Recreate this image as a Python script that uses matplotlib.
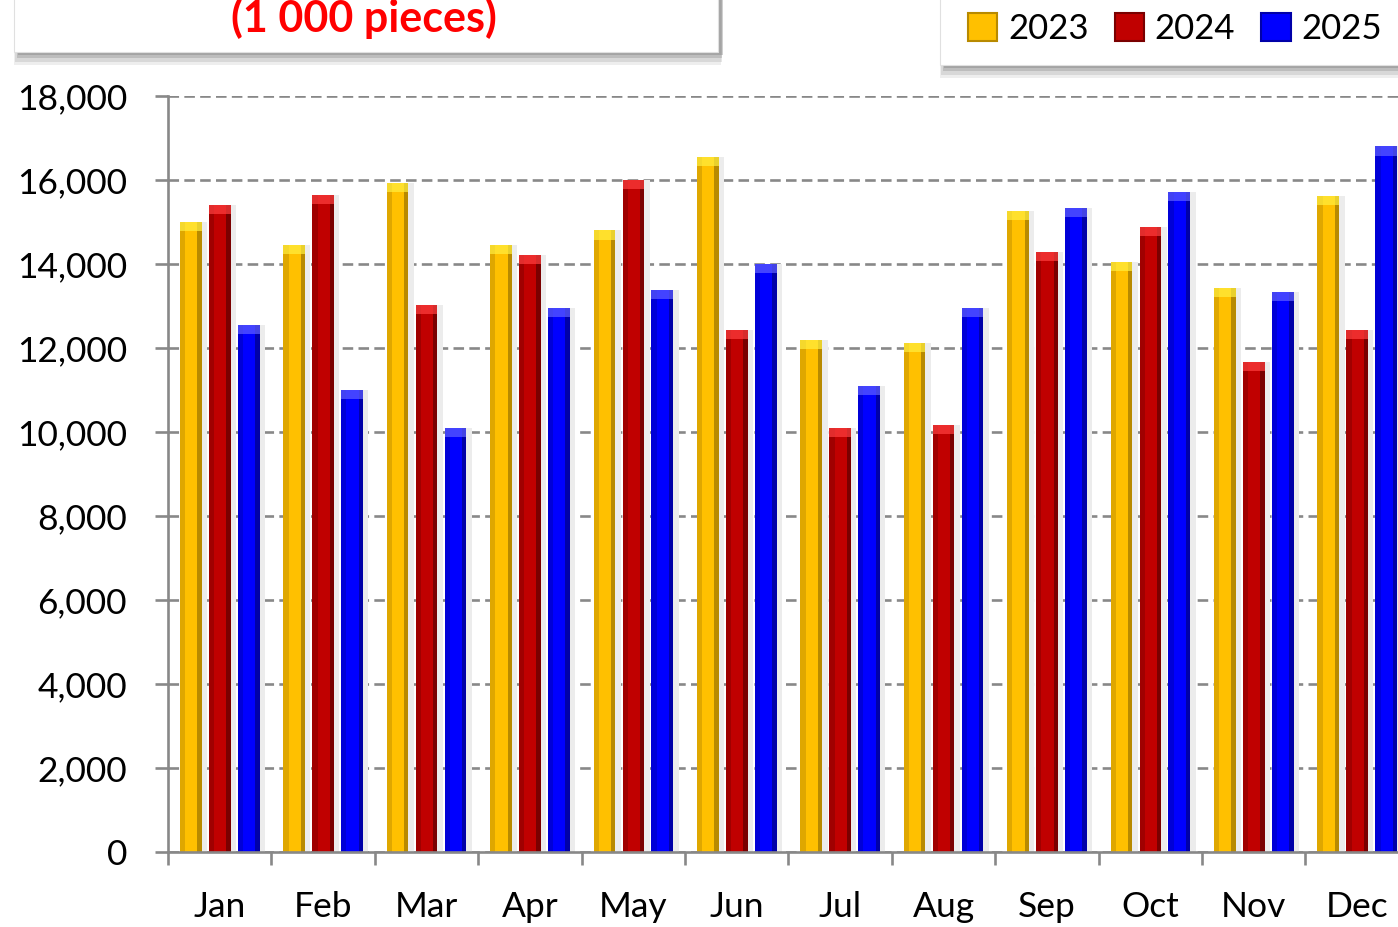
import numpy as np
import matplotlib.pyplot as plt
from matplotlib.patches import Rectangle, Patch
from matplotlib.ticker import FuncFormatter, MultipleLocator

plt.rcParams['font.family'] = ['Lato', 'DejaVu Sans']

months = ['Jan', 'Feb', 'Mar', 'Apr', 'May', 'Jun', 'Jul', 'Aug', 'Sep', 'Oct', 'Nov', 'Dec']
years = ['2023', '2024', '2025']
v2023 = [15000, 14450, 15930, 14450, 14800, 16550, 12190, 12120, 15260, 14050, 13430, 15620]
v2024 = [15400, 15640, 13020, 14210, 16000, 12430, 10100, 10170, 14290, 14880, 11670, 12430]
v2025 = [12550, 11000, 10100, 12950, 13380, 14000, 11100, 12950, 15330, 15710, 13330, 16800]

# base, dark edge, light highlight
colors = [('#ffc000', '#b88a00', '#ffee40'),
          ('#c00000', '#7a0000', '#ff4040'),
          ('#0000ff', '#0000a8', '#6060ff')]

fig = plt.figure(figsize=(13.98, 9.27), dpi=100)
ax = fig.add_axes([0.1202, 0.0809, 0.8876, 0.8155])

x = np.arange(len(months))
w = 0.21
offs = [-0.28, 0.0, 0.28]
for vals, off, (c, dk, lt) in zip([v2023, v2024, v2025], offs, colors):
    xs = x + off
    # soft shadow
    ax.bar(xs + w * 0.25, vals, width=w, color='#ececec', zorder=1)
    ax.bar(xs, vals, width=w, color=c, zorder=2)
    ax.bar(xs - w * 0.38, vals, width=w * 0.24, color=dk, alpha=0.45, zorder=3)
    ax.bar(xs + w * 0.40, vals, width=w * 0.2, color=dk, zorder=3)
    cap = 220
    ax.bar(xs, [cap] * len(vals), bottom=np.array(vals) - cap, width=w,
           color=lt, alpha=0.7, zorder=4)

ax.set_xlim(-0.5, 11.5)
ax.set_ylim(0, 18000)
ax.yaxis.set_major_locator(MultipleLocator(2000))
ax.yaxis.set_major_formatter(FuncFormatter(lambda v, p: f'{int(v):,}'))
ax.set_xticks(x)
ax.set_xticklabels(months)
ax.set_xticks(np.arange(-0.5, 12, 1), minor=True)

ax.grid(axis='y', color='#888888', linestyle=(0, (4, 2)), linewidth=1.9, zorder=0)
ax.set_axisbelow(True)
for s in ['top', 'right']:
    ax.spines[s].set_visible(False)
for s in ['left', 'bottom']:
    ax.spines[s].set_color('#888888')
    ax.spines[s].set_linewidth(1.9)
    ax.spines[s].set_zorder(5)

ax.tick_params(axis='y', length=9.5, width=1.9, color='#888888', labelsize=25.5, pad=20)
ax.tick_params(axis='x', which='major', length=0, labelsize=25.5, pad=28)
ax.tick_params(axis='x', which='minor', length=9.5, width=1.9, color='#888888')


def shadow_box(x0, y0, wd):
    for i, a in enumerate([0.12, 0.18, 0.28, 0.35]):
        d = 4 - i
        fig.patches.append(Rectangle((x0 + 0.001 * i, y0 - 0.0035 * d), wd + 0.0006 * d, 0.1,
                                     transform=fig.transFigure, facecolor='#777777', alpha=a,
                                     edgecolor='none', zorder=1))
    fig.patches.append(Rectangle((x0, y0), wd, 0.1, transform=fig.transFigure,
                                 facecolor='white', edgecolor='#e0e0e0', linewidth=0.8, zorder=2))


# title box
shadow_box(0.010, 0.9439, 0.5036)
fig.text(0.2604, 1 - 32 / 927, '(1 000 pieces)', color='#ff0000', fontsize=31, fontweight='bold',
         ha='center', va='baseline', zorder=3)

# legend box
shadow_box(0.6724, 0.930, 0.4)
handles = [Patch(facecolor=c, edgecolor=dk, linewidth=1.5) for c, dk, lt in colors]
leg = fig.legend(handles, years, loc='center left', bbox_to_anchor=(0.6924, 0.969), ncol=3,
                 frameon=False, fontsize=25, handlelength=0.85, handleheight=0.85,
                 handletextpad=0.3, columnspacing=0.75, borderpad=0, borderaxespad=0)
leg.set_zorder(4)

fig.savefig('out.png', dpi=100)
